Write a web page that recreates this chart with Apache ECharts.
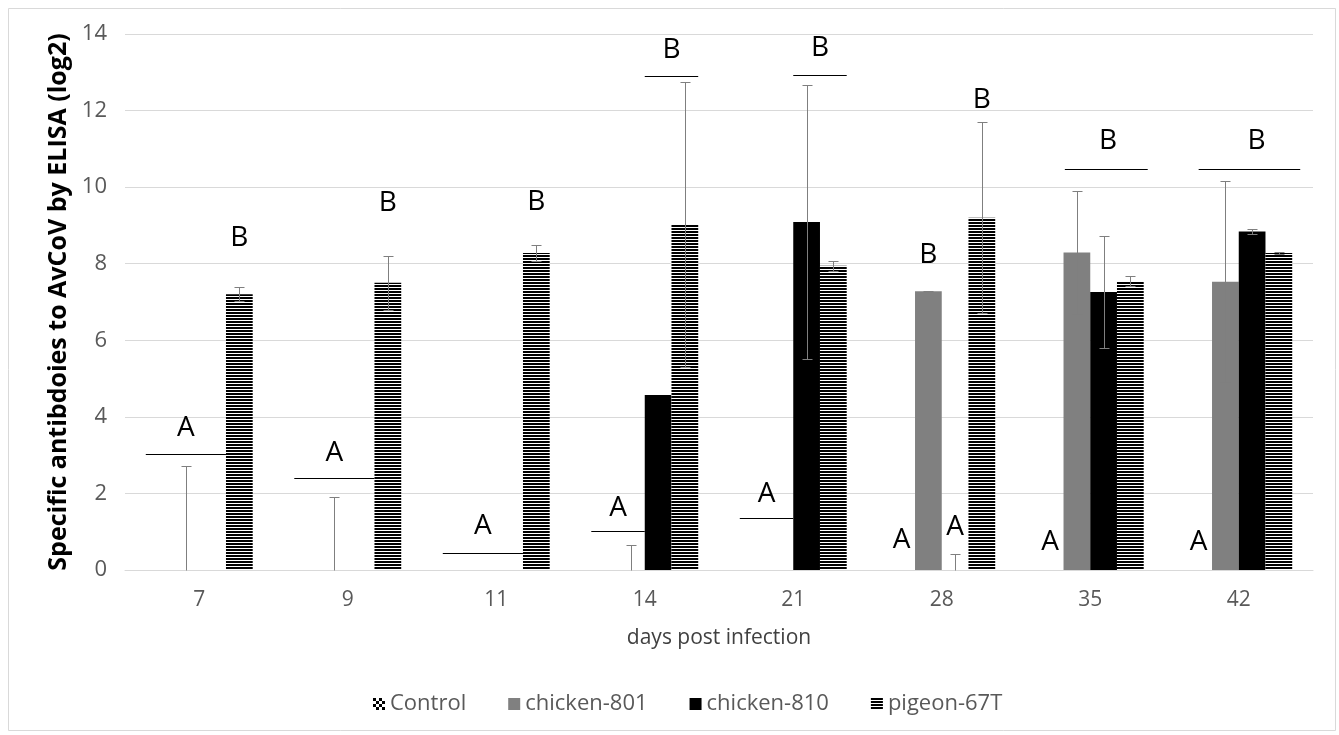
<!DOCTYPE html>
<html><head><meta charset="utf-8">
<script src="https://cdn.jsdelivr.net/npm/echarts@6/dist/echarts.min.js"></script>
<style>html,body{margin:0;padding:0;background:#fff}#c{width:1339px;height:735px}</style>
</head><body><div id="c"></div>
<script>
// ---------- data ----------
const categories = ['7', '9', '11', '14', '21', '28', '35', '42'];
const seriesNames = ['Control', 'chicken-801', 'chicken-810', 'pigeon-67T'];
const controlVals    = [0, 0, 0, 0, 0, 0, 0, 0];
const chicken801Vals = [0, 0, 0, 0, 0, 7.28, 8.29, 7.53];
const chicken801Err  = [2.71, 1.91, null, 0.64, null, 0.02, 1.6, 2.63];
const chicken810Vals = [0, 0, 0, 4.57, 9.09, 0, 7.26, 8.84];
const chicken810Err  = [null, null, null, null, 3.58, 0.43, 1.47, 0.06];
const pigeonVals     = [7.2, 7.5, 8.28, 9.03, 7.95, 9.2, 7.55, 8.28];
const pigeonErr      = [0.18, 0.7, 0.2, 3.72, 0.13, 2.5, 0.14, 0.03];
const yMin = 0, yMax = 14, yStep = 2;
// significance letters: [category index, series slot, value, letter]
const letterMarks = [
  [0, 1, 3.71, 'A'], [0, 3, 8.67, 'B'],
  [1, 1, 3.05, 'A'], [1, 3, 9.58, 'B'],
  [2, 1, 1.15, 'A'], [2, 3, 9.6, 'B'],
  [3, 0.5, 1.62, 'A'], [3, 2.5, 13.58, 'B'],
  [4, 0.5, 1.99, 'A'], [4, 2.5, 13.63, 'B'],
  [5, 0, 0.77, 'A'], [5, 1, 8.22, 'B'], [5, 2, 1.12, 'A'], [5, 3, 12.28, 'B'],
  [6, 0, 0.72, 'A'], [6, 2.17, 11.2, 'B'],
  [7, 0, 0.72, 'A'], [7, 2.17, 11.2, 'B']
];
// grouping lines: [category index, value, from slot edge, to slot edge]
const sigLines = [
  [0, 3.03, 0, 3], [1, 2.39, 0, 3], [2, 0.44, 0, 3],
  [3, 1.02, 0, 2], [3, 12.9, 2, 4],
  [4, 1.35, 0, 2], [4, 12.92, 2, 4],
  [6, 10.48, 1.05, 4.15], [7, 10.48, 0.5, 4.3]
];

// ---------- patterns ----------
function stripePattern() {
  const c = document.createElement('canvas');
  c.width = 4; c.height = 3;
  const g = c.getContext('2d');
  g.fillStyle = '#fff'; g.fillRect(0, 0, 4, 3);
  g.fillStyle = '#000'; g.fillRect(0, 0, 4, 2);
  return c;
}
function checkerPattern() {
  const c = document.createElement('canvas');
  c.width = 6; c.height = 6;
  const g = c.getContext('2d');
  g.fillStyle = '#fff'; g.fillRect(0, 0, 6, 6);
  g.fillStyle = '#000'; g.fillRect(0, 0, 3, 3); g.fillRect(3, 3, 3, 3);
  return c;
}

const BAR_FRAC = 0.18;
const FONT = '"Open Sans", "Liberation Sans", sans-serif';

function errRender(params, api) {
  const ci = api.value(0), slot = api.value(1), v = api.value(2), e = api.value(3);
  const bw = api.size([1, 0])[0] * BAR_FRAC;
  const cx = Math.round(api.coord([ci, 0])[0] + (slot - 1.5) * bw) + 0.5;
  const top = Math.round(api.coord([ci, v + e])[1]) + 0.5;
  const lo = Math.max(0, v - e);
  const bot = Math.round(api.coord([ci, lo])[1]) + 0.5;
  const st = { stroke: '#7f7f7f', lineWidth: 1 };
  const ch = [
    { type: 'line', shape: { x1: cx, y1: top, x2: cx, y2: bot }, style: st },
    { type: 'line', shape: { x1: cx - 5, y1: top, x2: cx + 5, y2: top }, style: st }
  ];
  if (lo > 0) ch.push({ type: 'line', shape: { x1: cx - 5, y1: bot, x2: cx + 5, y2: bot }, style: st });
  return { type: 'group', children: ch };
}
function letterRender(params, api) {
  const ci = api.value(0), slot = api.value(1), v = api.value(2);
  const bw = api.size([1, 0])[0] * BAR_FRAC;
  const p = api.coord([ci, v]);
  return { type: 'text', style: {
    text: letterMarks[params.dataIndex][3], x: p[0] + (slot - 1.5) * bw, y: p[1],
    align: 'center', verticalAlign: 'middle', font: '28px ' + FONT, fill: '#000' } };
}
function lineRender(params, api) {
  const ci = api.value(0), v = api.value(1), a = api.value(2), b = api.value(3);
  const bw = api.size([1, 0])[0] * BAR_FRAC;
  const cx = api.coord([ci, v])[0];
  const y = Math.round(api.coord([ci, v])[1]) + 0.5;
  return { type: 'line', shape: { x1: cx + (a - 2) * bw, y1: y, x2: cx + (b - 2) * bw, y2: y },
    style: { stroke: '#000', lineWidth: 1 } };
}

const errData = [];
[[1, chicken801Vals, chicken801Err], [2, chicken810Vals, chicken810Err], [3, pigeonVals, pigeonErr]]
  .forEach(([s, vals, errs]) => errs.forEach((e, i) => { if (e != null) errData.push([i, s, vals[i], e]); }));

const chart = echarts.init(document.getElementById('c'), null, { renderer: 'canvas' });
const barBase = { type: 'bar', barWidth: (BAR_FRAC * 100) + '%', barGap: '0%' };
chart.setOption({
  animation: false,
  backgroundColor: '#fff',
  graphic: [{ type: 'rect', shape: { x: 8.5, y: 8.5, width: 1327, height: 722 },
    style: { fill: 'none', stroke: '#d9d9d9', lineWidth: 1 }, silent: true, z: -1 }],
  grid: { left: 125, right: 26, top: 34, bottom: 165 },
  legend: {
    data: seriesNames, left: 368, top: 688, itemWidth: 12, itemHeight: 12, itemGap: 42,
    icon: 'rect', textStyle: { fontFamily: FONT, fontSize: 22, color: '#595959' }
  },
  xAxis: {
    type: 'category', data: categories,
    axisLine: { lineStyle: { color: '#d9d9d9' } }, axisTick: { show: false },
    axisLabel: { fontFamily: FONT, fontSize: 21, color: '#595959', margin: 20 },
    name: 'days post infection', nameLocation: 'middle', nameGap: 58,
    nameTextStyle: { fontFamily: FONT, fontSize: 21, color: '#404040' }
  },
  yAxis: {
    type: 'value', min: yMin, max: yMax, interval: yStep,
    axisLine: { show: false }, axisTick: { show: false },
    splitLine: { lineStyle: { color: '#d9d9d9' } },
    axisLabel: { fontFamily: FONT, fontSize: 22, color: '#595959', margin: 18 },
    name: 'Specific antibdoies to AvCoV by ELISA (log2)', nameLocation: 'middle', nameGap: 49,
    nameTextStyle: { fontFamily: FONT, fontSize: 25, fontWeight: 'bold', color: '#000' }
  },
  series: [
    Object.assign({ name: seriesNames[0], data: controlVals, itemStyle: { color: { image: checkerPattern(), repeat: 'repeat' } } }, barBase),
    Object.assign({ name: seriesNames[1], data: chicken801Vals, itemStyle: { color: '#808080' } }, barBase),
    Object.assign({ name: seriesNames[2], data: chicken810Vals, itemStyle: { color: '#000' } }, barBase),
    Object.assign({ name: seriesNames[3], data: pigeonVals, itemStyle: { color: { image: stripePattern(), repeat: 'repeat' } } }, barBase),
    { type: 'custom', name: 'err', renderItem: errRender, data: errData, encode: { x: 0, y: 2 }, z: 5, silent: true },
    { type: 'custom', name: 'sig', renderItem: lineRender, data: sigLines, encode: { x: 0, y: 1 }, z: 5, silent: true },
    { type: 'custom', name: 'let', renderItem: letterRender, data: letterMarks.map(d => [d[0], d[1], d[2]]), encode: { x: 0, y: 2 }, z: 5, silent: true, clip: false }
  ]
});
</script></body></html>
